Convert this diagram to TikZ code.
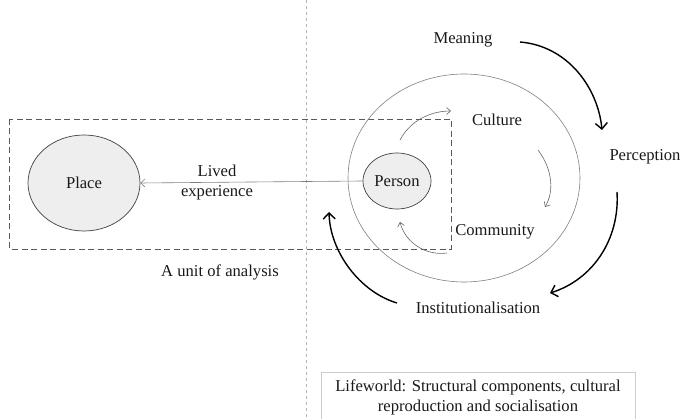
\documentclass[tikz,border=0pt]{standalone}
\usepackage{fontspec}
\setmainfont{Liberation Serif}
\usetikzlibrary{arrows.meta,shapes.geometric}
\definecolor{fillg}{HTML}{EEEEEE}
\begin{document}
\begin{tikzpicture}[x=1pt,y=-1pt,
  lbl/.style={font=\fontsize{16.6}{20}\selectfont, text=black!90, inner sep=0pt, align=center},
  blob/.style={ellipse, draw=black!75, fill=fillg, line width=0.7pt},
  bigarrow/.style={line width=1.4pt, -{Straight Barb[length=6pt,width=12pt]}},
  smallarrow/.style={draw=black!60, line width=0.6pt, -{Straight Barb[length=4pt,width=7pt]}}]
\useasboundingbox (0,0) rectangle (683,419);
% vertical divider
\draw[black!30, dashed, line width=0.6pt] (306,0) -- (306,419);
% unit of analysis rectangle
\draw[black!65, dash pattern=on 6pt off 3.5pt, line width=0.9pt] (9,119) rectangle (451,249);
% big lifeworld ellipse
\draw[black!50, line width=0.6pt] (464,178) ellipse [x radius=116, y radius=104];
% nodes
\node[blob, minimum width=112, minimum height=96, inner sep=0pt] (place) at (84,183) {};
\node[lbl] at (place) {Place};
\node[blob, minimum width=68, minimum height=56, inner sep=0pt] (person) at (397,181) {};
\node[lbl] at (person) {Person};
\node[lbl] (lived) at (217,183) {Lived\\experience};
\node[lbl] (unit) at (220,272) {A unit of analysis};
\node[lbl] (meaning) at (463,40) {Meaning};
\node[lbl] (culture) at (497,120) {Culture};
\node[lbl] (perception) at (645,157) {Perception};
\node[lbl] (community) at (495,232) {Community};
\node[lbl] (inst) at (478,308) {Institutionalisation};
\draw[black!20, line width=0.6pt] (321,372) rectangle (635,422);
\node[lbl] (lifeworld) at (478,397) {Lifeworld: Structural components, cultural\\reproduction and socialisation};
% lived experience arrow
\draw[draw=black!50, line width=0.6pt, -{Straight Barb[length=4pt,width=8pt]}] (person.west) -- (place.east);
% big cycle arrows
\coordinate (m1) at (520,42); \coordinate (m2) at (602,130);
\coordinate (p1) at (617,192); \coordinate (p2) at (550,293);
\coordinate (i1) at (397,303); \coordinate (i2) at (329,212);
\draw[bigarrow] (m1) .. controls (568,46) and (598,88) .. (m2);
\draw[bigarrow] (p1) .. controls (620,240) and (592,280) .. (p2);
\draw[bigarrow] (i1) .. controls (360,292) and (330,252) .. (i2);
% inner arrows
\coordinate (a1) at (400,140); \coordinate (a2) at (451,111);
\coordinate (b1) at (538,150); \coordinate (b2) at (545,207);
\coordinate (c1) at (447,253); \coordinate (c2) at (400,222);
\draw[smallarrow] (a1) .. controls (410,121) and (430,111) .. (a2);
\draw[smallarrow] (b1) .. controls (553,170) and (554,192) .. (b2);
\draw[smallarrow] (c1) .. controls (425,256) and (405,242) .. (c2);
\end{tikzpicture}
\end{document}
